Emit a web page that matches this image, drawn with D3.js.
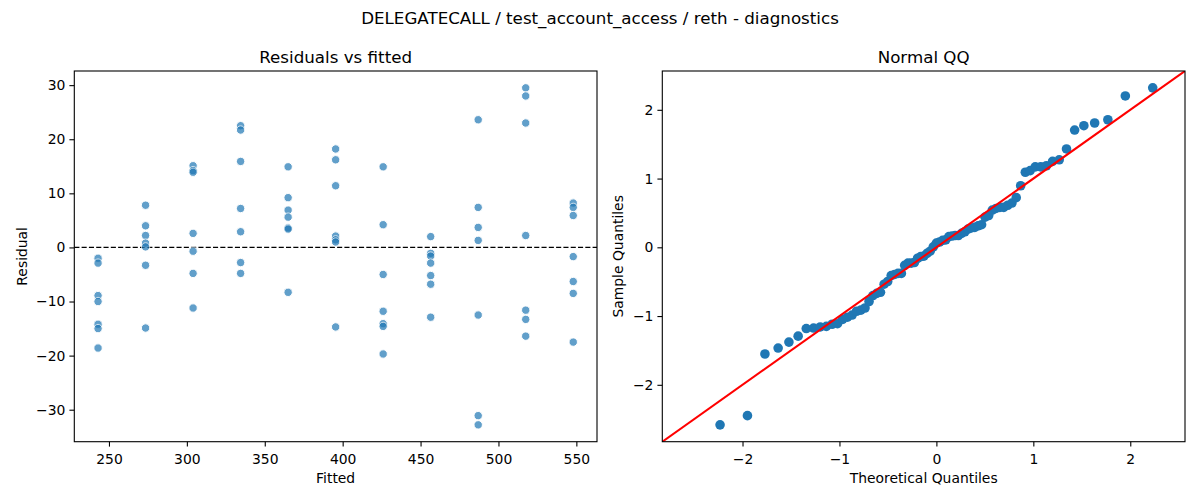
<!doctype html>
<html lang="en">
<head>
<meta charset="utf-8" />
<title>DELEGATECALL diagnostics</title>
<script src="https://d3js.org/d3.v7.min.js"></script>
<style>
  body { margin: 0; background: #fff; }
  svg text { font-family: "DejaVu Sans", sans-serif; fill: #000; }
</style>
</head>
<body>
<div id="chart"></div>
<script>
// fitted value of each group (x of the residual plot)
const fittedLevels = [243, 273.5, 304, 334.5, 365, 395.5, 426, 456.5, 487, 517.5, 548];

// residuals, one list per fitted level
const residualsByLevel = [
  [-2.0, -2.9, -8.9, -10.0, -14.2, -15.0, -18.6],
  [7.8, 4.0, 2.2, 0.8, 0.1, -3.3, -14.9],
  [15.1, 14.2, 13.9, 2.6, -0.7, -4.8, -11.2],
  [22.5, 21.7, 15.9, 7.2, 2.9, -2.8, -4.8],
  [14.9, 9.2, 6.9, 5.6, 3.6, 3.4, -8.3],
  [18.2, 16.2, 11.4, 2.1, 1.4, 1.0, -14.7],
  [14.9, 4.2, -5.0, -11.8, -14.1, -14.6, -19.7],
  [2.0, -1.1, -1.6, -2.9, -5.2, -6.8, -12.9],
  [23.6, 7.4, 3.7, 1.3, -12.5, -31.1, -32.8],
  [29.5, 28.0, 23.0, 2.2, -11.6, -13.3, -16.4],
  [8.2, 7.4, 5.9, -1.7, -6.3, -8.5, -17.5]
];

const residTicks = [-30, -20, -10, 0, 10, 20, 30];
const fittedTicks = [250, 300, 350, 400, 450, 500, 550];
const qqTicks = [-2, -1, 0, 1, 2];

const W = 1200, H = 500;
const blue = "#1f77b4";
const fmt = d3.format("d");

const svg = d3.select("#chart").append("svg")
  .attr("width", W).attr("height", H);

// inverse normal cdf (Acklam)
function normPpf(p) {
  const a = [-3.969683028665376e+01, 2.209460984245205e+02, -2.759285104469687e+02, 1.383577518672690e+02, -3.066479806614716e+01, 2.506628277386780e+00];
  const b = [-5.447609879822406e+01, 1.615858368580409e+02, -1.556989798598866e+02, 6.680131188771972e+01, -1.328068155288572e+01];
  const c = [-7.784894002430293e-03, -3.223964580411365e-01, -2.400758277161838e+00, -2.549732539343734e+00, 4.374664141464968e+00, 2.938163982698783e+00];
  const d = [7.784695709041462e-03, 3.224671290700398e-01, 2.445134137142996e+00, 3.754408661907416e+00];
  const plow = 0.02425;
  let q, r;
  if (p < plow) {
    q = Math.sqrt(-2 * Math.log(p));
    return (((((c[0]*q+c[1])*q+c[2])*q+c[3])*q+c[4])*q+c[5]) / ((((d[0]*q+d[1])*q+d[2])*q+d[3])*q+1);
  } else if (p <= 1 - plow) {
    q = p - 0.5; r = q * q;
    return (((((a[0]*r+a[1])*r+a[2])*r+a[3])*r+a[4])*r+a[5])*q / (((((b[0]*r+b[1])*r+b[2])*r+b[3])*r+b[4])*r+1);
  }
  q = Math.sqrt(-2 * Math.log(1 - p));
  return -(((((c[0]*q+c[1])*q+c[2])*q+c[3])*q+c[4])*q+c[5]) / ((((d[0]*q+d[1])*q+d[2])*q+d[3])*q+1);
}

// matplotlib-like 5% margins
function padded(lo, hi) {
  const m = (hi - lo) * 0.05;
  return [lo - m, hi + m];
}

function drawFrame(g, x, y, xt, yt) {
  const [x0, x1] = x.range(), [y0, y1] = y.range();
  const xa = g.append("g").attr("transform", `translate(0,${y0})`)
    .call(d3.axisBottom(x).tickValues(xt).tickSize(4.9).tickPadding(4).tickFormat(d => fmt(d)));
  const ya = g.append("g").attr("transform", `translate(${x0},0)`)
    .call(d3.axisLeft(y).tickValues(yt).tickSize(4.9).tickPadding(4).tickFormat(d => fmt(d)));
  [xa, ya].forEach(a => {
    a.select(".domain").remove();
    a.selectAll("line").attr("stroke", "#000").attr("stroke-width", 1.1);
    a.selectAll("text").attr("font-size", "13.9px").attr("fill", "#000");
  });
  xa.selectAll("text").attr("dy", "0.95em");
  g.append("rect")
    .attr("x", x0).attr("y", y1)
    .attr("width", x1 - x0).attr("height", y0 - y1)
    .attr("fill", "none").attr("stroke", "#000").attr("stroke-width", 1.1);
}

// ---------------- Residuals vs fitted ----------------
const points = [];
fittedLevels.forEach((f, i) => residualsByLevel[i].forEach(r => points.push({ f: f, r: r })));

const left = svg.append("g");
const xL = d3.scaleLinear()
  .domain(padded(d3.min(fittedLevels), d3.max(fittedLevels)))
  .range([74.3, 597]);
const yL = d3.scaleLinear()
  .domain(padded(d3.min(points, d => d.r), d3.max(points, d => d.r)))
  .range([441.7, 71]);

left.append("line")
  .attr("x1", 74.3).attr("x2", 597)
  .attr("y1", yL(0)).attr("y2", yL(0))
  .attr("stroke", "#000").attr("stroke-width", 1.3)
  .attr("stroke-dasharray", "5.1,2.2");

left.selectAll("circle.res")
  .data(points)
  .enter().append("circle")
  .attr("class", "res")
  .attr("cx", d => xL(d.f))
  .attr("cy", d => yL(d.r))
  .attr("r", 4.2)
  .attr("fill", blue)
  .attr("stroke", "#fff")
  .attr("stroke-width", 1)
  .attr("opacity", 0.7);

drawFrame(left, xL, yL, fittedTicks, residTicks);

left.append("text").attr("x", (74.3 + 597) / 2).attr("y", 63)
  .attr("text-anchor", "middle").attr("font-size", "16.7px").text("Residuals vs fitted");
left.append("text").attr("x", (74.3 + 597) / 2).attr("y", 483)
  .attr("text-anchor", "middle").attr("font-size", "13.9px").text("Fitted");
left.append("text")
  .attr("transform", `translate(27,${(71 + 441.7) / 2}) rotate(-90)`)
  .attr("text-anchor", "middle").attr("font-size", "13.9px").text("Residual");

// ---------------- Normal QQ ----------------
const allResid = points.map(d => d.r).sort(d3.ascending);
const n = allResid.length;
const mu = d3.mean(allResid);
const sd = Math.sqrt(d3.mean(allResid, v => (v - mu) * (v - mu)));
const qq = allResid.map((v, i) => ({ t: normPpf((i + 1) / (n + 1)), s: (v - mu) / sd }));

const tr = padded(d3.min(qq, d => d.t), d3.max(qq, d => d.t));
const sr = padded(d3.min(qq, d => d.s), d3.max(qq, d => d.s));
const lim = [Math.min(tr[0], sr[0]), Math.max(tr[1], sr[1])];

const right = svg.append("g");
const xR = d3.scaleLinear().domain(lim).range([662.3, 1185]);
const yR = d3.scaleLinear().domain(lim).range([441.7, 71]);

right.append("clipPath").attr("id", "qqclip")
  .append("rect").attr("x", 662.3).attr("y", 71).attr("width", 1185 - 662.3).attr("height", 441.7 - 71);

right.selectAll("circle.qq")
  .data(qq)
  .enter().append("circle")
  .attr("class", "qq")
  .attr("cx", d => xR(d.t))
  .attr("cy", d => yR(d.s))
  .attr("r", 4.8)
  .attr("fill", blue);

right.append("line")
  .attr("clip-path", "url(#qqclip)")
  .attr("x1", xR(lim[0])).attr("y1", yR(lim[0]))
  .attr("x2", xR(lim[1])).attr("y2", yR(lim[1]))
  .attr("stroke", "#ff0000").attr("stroke-width", 2.1);

drawFrame(right, xR, yR, qqTicks, qqTicks);

right.append("text").attr("x", (662.3 + 1185) / 2).attr("y", 63)
  .attr("text-anchor", "middle").attr("font-size", "16.7px").text("Normal QQ");
right.append("text").attr("x", (662.3 + 1185) / 2).attr("y", 483)
  .attr("text-anchor", "middle").attr("font-size", "13.9px").text("Theoretical Quantiles");
right.append("text")
  .attr("transform", `translate(623,${(71 + 441.7) / 2}) rotate(-90)`)
  .attr("text-anchor", "middle").attr("font-size", "13.9px").text("Sample Quantiles");

// suptitle
svg.append("text").attr("x", 600).attr("y", 24)
  .attr("text-anchor", "middle").attr("font-size", "16.7px")
  .text("DELEGATECALL / test_account_access / reth - diagnostics");
</script>
</body>
</html>
